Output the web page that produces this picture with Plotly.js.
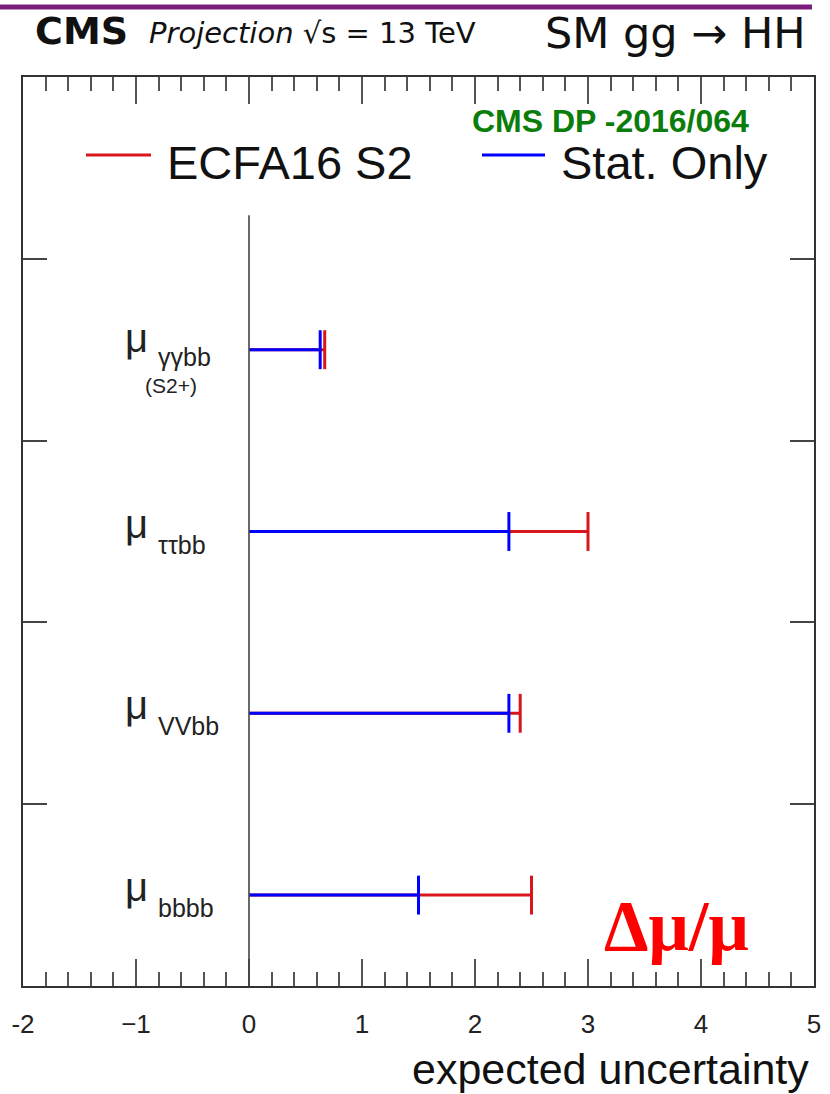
<!DOCTYPE html>
<html>
<head>
<meta charset="utf-8">
<script src="https://cdn.plot.ly/plotly-3.0.1.min.js"></script>
<style>
  html, body { margin: 0; padding: 0; background: #ffffff; }
  #chart { width: 830px; height: 1094px; }
</style>
</head>
<body>
<div id="chart"></div>
<script>
// ---- data ----
const categories = ['bbbb', 'VVbb', 'ττbb', 'γγbb'];
const categoryNotes = ['', '', '', '(S2+)'];
const statOnly = [1.5, 2.3, 2.3, 0.63];
const ecfa16S2 = [2.5, 2.4, 3.0, 0.67];
const seriesNames = ['ECFA16 S2', 'Stat. Only'];
const xTickVals = [-2, -1, 0, 1, 2, 3, 4, 5];
const xTickText = ['-2', '−1', '0', '1', '2', '3', '4', '5'];

const RED = '#d8161b';
const BLUE = '#0000ff';
const CAP = 0.107;

function segments(values) {
  const x = [], y = [];
  values.forEach((v, i) => {
    const c = i + 0.5;
    x.push(0, v, null, v, v, null);
    y.push(c, c, null, c - CAP, c + CAP, null);
  });
  return {x, y};
}

const sRed = segments(ecfa16S2);
const sBlue = segments(statOnly);

const traces = [
  {x: sRed.x, y: sRed.y, mode: 'lines', name: seriesNames[0], line: {color: RED, width: 3}, showlegend: false, hoverinfo: 'skip'},
  {x: sBlue.x, y: sBlue.y, mode: 'lines', name: seriesNames[1], line: {color: BLUE, width: 3}, showlegend: false, hoverinfo: 'skip'}
];

const L = 23, R = 16, T = 77, B = 108;
const W = 830, H = 1094;
const pw = W - L - R, ph = H - T - B;
const px = v => (v - L) / pw;            // pixel x -> paper
const py = v => (H - B - v) / ph;        // pixel y -> paper

const SANS = 'Liberation Sans, Arial, sans-serif';
const annotations = [];
categories.forEach((c, i) => {
  const hasNote = !!categoryNotes[i];
  annotations.push({
    xref: 'paper', yref: 'y', x: px(150), y: i + 0.5, xanchor: 'right', yanchor: 'middle',
    yshift: hasNote ? 12 : 8, showarrow: false, text: 'μ',
    font: {family: SANS, size: 40, color: '#222'}
  });
  annotations.push({
    xref: 'paper', yref: 'y', x: px(156), y: i + 0.5, xanchor: 'left', yanchor: 'middle',
    yshift: hasNote ? -7 : -13, showarrow: false, text: c,
    font: {family: SANS, size: 25, color: '#222'}
  });
  if (hasNote) {
    annotations.push({
      xref: 'paper', yref: 'y', x: px(171), y: i + 0.5, xanchor: 'center', yanchor: 'middle',
      yshift: -36, showarrow: false, text: categoryNotes[i],
      font: {family: SANS, size: 21, color: '#222'}
    });
  }
});

// header
annotations.push(
  {xref: 'paper', yref: 'paper', x: px(33), y: py(31), xanchor: 'left', yanchor: 'middle', showarrow: false,
   text: '<b>CMS</b>', font: {family: 'DejaVu Sans, sans-serif', size: 38, color: '#111'}},
  {xref: 'paper', yref: 'paper', x: px(147), y: py(33), xanchor: 'left', yanchor: 'middle', showarrow: false,
   text: '<i>Projection</i> √s = 13 TeV', font: {family: 'DejaVu Sans, sans-serif', size: 29, color: '#111'}},
  {xref: 'paper', yref: 'paper', x: px(808), y: py(33), xanchor: 'right', yanchor: 'middle', showarrow: false,
   text: 'SM gg → HH', font: {family: 'DejaVu Sans, sans-serif', size: 43, color: '#111'}},
  // legend text
  {xref: 'paper', yref: 'paper', x: px(165), y: py(163), xanchor: 'left', yanchor: 'middle', showarrow: false,
   text: seriesNames[0], font: {family: SANS, size: 47, color: '#111'}},
  {xref: 'paper', yref: 'paper', x: px(559), y: py(163), xanchor: 'left', yanchor: 'middle', showarrow: false,
   text: seriesNames[1], font: {family: SANS, size: 47, color: '#111'}},
  // green reference
  {xref: 'paper', yref: 'paper', x: px(470), y: py(121), xanchor: 'left', yanchor: 'middle', showarrow: false,
   text: '<b>CMS DP -2016/064</b>', font: {family: SANS, size: 32, color: '#0b7d0b'}},
  // delta mu / mu
  {xref: 'paper', yref: 'paper', x: px(602), y: py(926), xanchor: 'left', yanchor: 'middle', showarrow: false,
   text: '<b>Δμ/μ</b>', font: {family: 'Liberation Serif, Times New Roman, serif', size: 71, color: '#ff0000'}},
  // axis title
  {xref: 'paper', yref: 'paper', x: px(811), y: py(1069), xanchor: 'right', yanchor: 'middle', showarrow: false,
   text: 'expected uncertainty', font: {family: SANS, size: 43, color: '#111'}}
);

const shapes = [
  // purple header line
  {type: 'line', xref: 'paper', yref: 'paper', x0: px(0), x1: px(812), y0: py(7), y1: py(7),
   line: {color: '#7b1d7d', width: 5}},
  // vertical zero line
  {type: 'line', xref: 'x', yref: 'y', x0: 0, x1: 0, y0: 0, y1: 4.24, line: {color: '#444', width: 1.6}},
  // legend lines
  {type: 'line', xref: 'paper', yref: 'paper', x0: px(86), x1: px(151), y0: py(155), y1: py(155),
   line: {color: RED, width: 3}},
  {type: 'line', xref: 'paper', yref: 'paper', x0: px(482), x1: px(545), y0: py(155), y1: py(155),
   line: {color: BLUE, width: 3}}
];

const layout = {
  width: W, height: H,
  margin: {l: L, r: R, t: T, b: B, pad: 0},
  paper_bgcolor: '#ffffff', plot_bgcolor: '#ffffff',
  showlegend: false,
  xaxis: {
    range: [-2, 5], tickvals: xTickVals, ticktext: xTickText,
    ticks: 'inside', ticklen: 27, tickwidth: 2, tickcolor: '#555',
    minor: {dtick: 0.2, tick0: 0, ticks: 'inside', ticklen: 14, tickwidth: 2, tickcolor: '#555', showgrid: false},
    showline: true, linecolor: '#333', linewidth: 2, mirror: 'allticks',
    showgrid: false, zeroline: false, ticklabelstandoff: 14,
    tickfont: {family: SANS, size: 26, color: '#222'}
  },
  yaxis: {
    range: [0, 5], tickvals: [1, 2, 3, 4], showticklabels: false,
    ticks: 'inside', ticklen: 24, tickwidth: 2, tickcolor: '#444',
    showline: true, linecolor: '#333', linewidth: 2, mirror: 'allticks',
    showgrid: false, zeroline: false
  },
  annotations: annotations,
  shapes: shapes
};

Plotly.newPlot('chart', traces, layout, {displayModeBar: false, staticPlot: true});
</script>
</body>
</html>
